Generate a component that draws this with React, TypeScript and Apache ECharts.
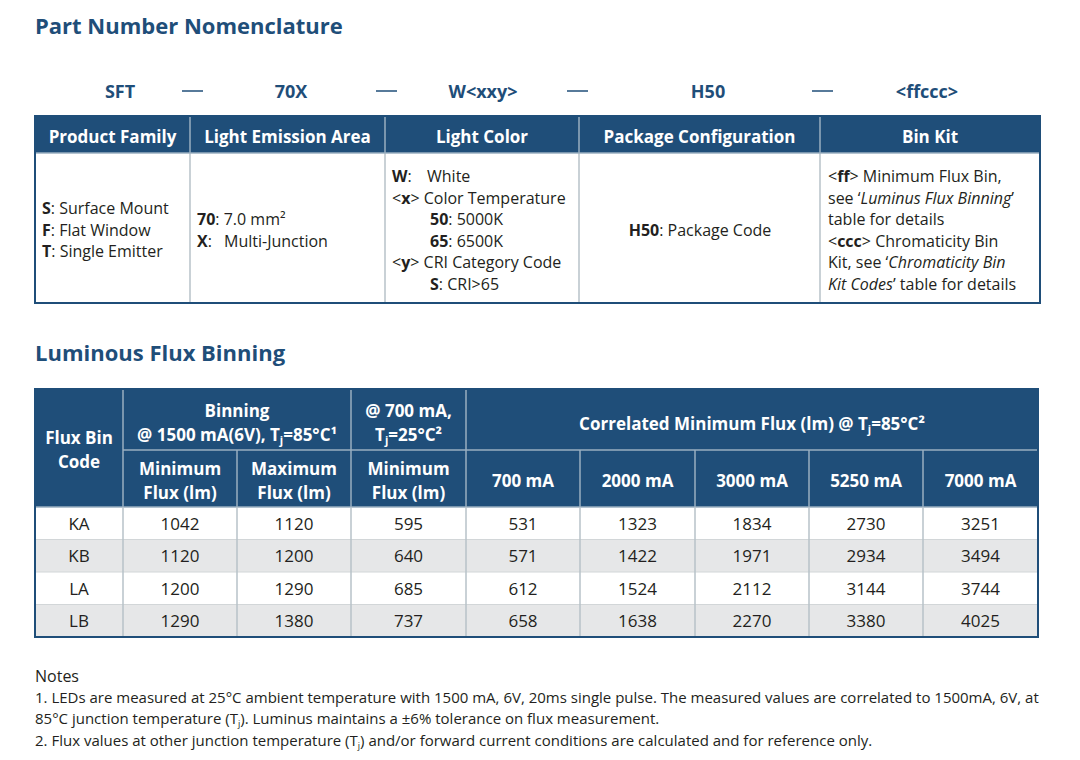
import React, { useEffect, useRef } from 'react';
import * as echarts from 'echarts';

const FONT = '"Open Sans", "Noto Sans", sans-serif';
const BLUE = '#1f4e79';
const INK = '#231f20';
const HEAD_LINE = '#9aafc0';
const GRID = '#b7c2c8';
const STRIPE = '#e6e7e8';

// ---- Data ----
const partCodes = ['SFT', '70X', 'W<xxy>', 'H50', '<ffccc>'];
const nomenHeaders = ['Product Family', 'Light Emission Area', 'Light Color', 'Package Configuration', 'Bin Kit'];
const fluxBinCodes = ['KA', 'KB', 'LA', 'LB'];
const minFlux1500 = [1042, 1120, 1200, 1290];
const maxFlux1500 = [1120, 1200, 1290, 1380];
const minFlux700at25 = [595, 640, 685, 737];
const flux700 = [531, 571, 612, 658];
const flux2000 = [1323, 1422, 1524, 1638];
const flux3000 = [1834, 1971, 2112, 2270];
const flux5250 = [2730, 2934, 3144, 3380];
const flux7000 = [3251, 3494, 3744, 4025];
const currentLabels = ['700 mA', '2000 mA', '3000 mA', '5250 mA', '7000 mA'];

type Seg = [string, string] | string;

function txt(x: number, y: number, segs: Seg[], o: { size?: number; color?: string; align?: string; weight?: string } = {}) {
  const size = o.size ?? 16;
  const color = o.color ?? INK;
  const w = o.weight ?? 'normal';
  const mk = (extra: any) => ({ fontFamily: FONT, fontSize: size, fill: color, color, lineHeight: Math.round(size * 1.25), ...extra });
  const rich: any = {
    n: mk({ fontWeight: w }),
    b: mk({ fontWeight: 'bold' }),
    i: mk({ fontWeight: w, fontStyle: 'italic' }),
    s: mk({ fontWeight: w, fontSize: Math.round(size * 0.62), verticalAlign: 'bottom' }),
  };
  const text = segs
    .map((s) => (typeof s === 'string' ? `{n|${s}}` : `{${s[0]}|${s[1]}}`))
    .join('');
  const align = o.align ?? 'left';
  return {
    type: 'text',
    x,
    y,
    silent: true,
    style: {
      text,
      rich,
      fontFamily: FONT,
      fontSize: size,
      fontWeight: w,
      fill: color,
      align,
      textAlign: align,
      verticalAlign: 'middle',
      textVerticalAlign: 'middle',
    },
  };
}

function ln(x1: number, y1: number, x2: number, y2: number, stroke: string, lineWidth = 1) {
  return { type: 'line', silent: true, shape: { x1, y1, x2, y2 }, style: { stroke, lineWidth } };
}

function rect(x: number, y: number, width: number, height: number, style: any) {
  return { type: 'rect', silent: true, shape: { x, y, width, height }, style };
}

function buildElements() {
  const els: any[] = [];

  // ---- Part Number Nomenclature ----
  els.push(txt(35, 25, [['b', 'Part Number Nomenclature']], { size: 22, color: BLUE }));
  const codeX = [120, 291, 483, 708, 927];
  partCodes.forEach((c, i) => els.push(txt(codeX[i], 91, [['b', c]], { size: 18, color: BLUE, align: 'center' })));
  const dashX = [182, 376, 567, 812];
  dashX.forEach((x) => els.push(ln(x, 91, x + 21, 91, BLUE, 1.5)));

  const t1L = 35, t1R = 1040, t1Top = 116, t1HB = 153, t1Bot = 303;
  const t1Cols = [35, 190, 385, 579, 820, 1040];
  els.push(rect(t1L, t1Top, t1R - t1L, t1HB - t1Top, { fill: BLUE }));
  for (let i = 1; i < t1Cols.length - 1; i++) {
    els.push(ln(t1Cols[i], t1Top, t1Cols[i], t1HB, HEAD_LINE, 1.5));
    els.push(ln(t1Cols[i], t1HB, t1Cols[i], t1Bot, GRID, 1.5));
  }
  els.push(ln(t1L, t1HB, t1R, t1HB, HEAD_LINE, 1.5));
  els.push(rect(t1L, t1Top, t1R - t1L, t1Bot - t1Top, { fill: 'none', stroke: BLUE, lineWidth: 2 }));
  nomenHeaders.forEach((h, i) => {
    const cx = (t1Cols[i] + t1Cols[i + 1]) / 2;
    els.push(txt(cx, 136, [['b', h]], { size: 17, color: '#ffffff', align: 'center' }));
  });

  // column 1
  const lh = 21.6;
  els.push(txt(42, 208, [['b', 'S'], ': Surface Mount']));
  els.push(txt(42, 208 + lh, [['b', 'F'], ': Flat Window']));
  els.push(txt(42, 208 + 2 * lh, [['b', 'T'], ': Single Emitter']));
  // column 2
  els.push(txt(197, 219, [['b', '70'], ': 7.0 mm²']));
  els.push(txt(197, 241, [['b', 'X'], ':']));
  els.push(txt(224, 241, ['Multi-Junction']));
  // column 3
  const c3 = 392, c3i = 430, y3 = 176;
  els.push(txt(c3, y3, [['b', 'W'], ':']));
  els.push(txt(427, y3, ['White']));
  els.push(txt(c3, y3 + lh, ['<', ['b', 'x'], '> Color Temperature']));
  els.push(txt(c3i, y3 + 2 * lh, [['b', '50'], ': 5000K']));
  els.push(txt(c3i, y3 + 3 * lh, [['b', '65'], ': 6500K']));
  els.push(txt(c3, y3 + 4 * lh, ['<', ['b', 'y'], '> CRI Category Code']));
  els.push(txt(c3i, y3 + 5 * lh, [['b', 'S'], ': CRI>65']));
  // column 4
  els.push(txt(700, 230, [['b', 'H50'], ': Package Code'], { align: 'center' }));
  // column 5
  const c5 = 828;
  els.push(txt(c5, y3, ['<', ['b', 'ff'], '> Minimum Flux Bin,']));
  els.push(txt(c5, y3 + lh, ['see ‘', ['i', 'Luminus Flux Binning'], '’']));
  els.push(txt(c5, y3 + 2 * lh, ['table for details']));
  els.push(txt(c5, y3 + 3 * lh, ['<', ['b', 'ccc'], '> Chromaticity Bin']));
  els.push(txt(c5, y3 + 4 * lh, ['Kit, see ‘', ['i', 'Chromaticity Bin']]));
  els.push(txt(c5, y3 + 5 * lh, [['i', 'Kit Codes'], '’ table for details']));

  // ---- Luminous Flux Binning ----
  els.push(txt(35, 352, [['b', 'Luminous Flux Binning']], { size: 22, color: BLUE }));
  const cols = [35, 123, 237, 351, 466, 580, 695, 809, 923, 1038];
  const top = 389, hMid = 450, hBot = 507;
  const rowH = 32.5;
  const bot = hBot + rowH * fluxBinCodes.length;
  els.push(rect(cols[0], top, cols[9] - cols[0], hBot - top, { fill: BLUE }));
  fluxBinCodes.forEach((_, r) => {
    els.push(rect(cols[0], hBot + r * rowH, cols[9] - cols[0], rowH, { fill: r % 2 === 0 ? '#ffffff' : STRIPE }));
    if (r > 0) els.push(ln(cols[0], hBot + r * rowH, cols[9], hBot + r * rowH, '#d2d6d8', 1));
  });
  // header lines
  [1, 3, 4].forEach((i) => els.push(ln(cols[i], top, cols[i], hBot, HEAD_LINE, 1.5)));
  [2, 5, 6, 7, 8].forEach((i) => els.push(ln(cols[i], hMid, cols[i], hBot, HEAD_LINE, 1.5)));
  els.push(ln(cols[1], hMid, cols[9], hMid, HEAD_LINE, 1.5));
  els.push(ln(cols[0], hBot, cols[9], hBot, HEAD_LINE, 1.5));
  for (let i = 1; i < 9; i++) els.push(ln(cols[i], hBot, cols[i], bot, GRID, 1.5));
  els.push(rect(cols[0], top, cols[9] - cols[0], bot - top, { fill: 'none', stroke: BLUE, lineWidth: 2 }));

  const W = '#ffffff';
  const hs = 17;
  const cx = (i: number) => (cols[i] + cols[i + 1]) / 2;
  els.push(txt(cx(0), 437, [['b', 'Flux Bin']], { size: hs, color: W, align: 'center' }));
  els.push(txt(cx(0), 461, [['b', 'Code']], { size: hs, color: W, align: 'center' }));
  els.push(txt(cols[2], 410, [['b', 'Binning']], { size: hs, color: W, align: 'center' }));
  els.push(txt(cols[2], 434, [['b', '@ 1500 mA(6V), T'], ['s', 'j'], ['b', '=85°C¹']], { size: hs, color: W, align: 'center', weight: 'bold' }));
  els.push(txt(cx(3), 410, [['b', '@ 700 mA,']], { size: hs, color: W, align: 'center' }));
  els.push(txt(cx(3), 434, [['b', 'T'], ['s', 'j'], ['b', '=25°C²']], { size: hs, color: W, align: 'center', weight: 'bold' }));
  els.push(txt((cols[4] + cols[9]) / 2, 423, [['b', 'Correlated Minimum Flux (lm) @ T'], ['s', 'j'], ['b', '=85°C²']], { size: hs, color: W, align: 'center', weight: 'bold' }));
  const sub2 = [['Minimum', 1], ['Maximum', 2], ['Minimum', 3]] as [string, number][];
  sub2.forEach(([label, i]) => {
    els.push(txt(cx(i), 468, [['b', label]], { size: hs, color: W, align: 'center' }));
    els.push(txt(cx(i), 492, [['b', 'Flux (lm)']], { size: hs, color: W, align: 'center' }));
  });
  currentLabels.forEach((c, k) => els.push(txt(cx(4 + k), 480, [['b', c]], { size: hs, color: W, align: 'center' })));

  const columns: (string | number)[][] = [fluxBinCodes, minFlux1500, maxFlux1500, minFlux700at25, flux700, flux2000, flux3000, flux5250, flux7000];
  columns.forEach((colVals, i) => {
    colVals.forEach((v, r) => {
      els.push(txt(cx(i), hBot + r * rowH + rowH / 2, [String(v)], { size: 17, align: 'center' }));
    });
  });

  // ---- Notes ----
  els.push(txt(35, 676, ['Notes'], { size: 16 }));
  const ns = 15;
  els.push(txt(35, 697, ['1. LEDs are measured at 25°C ambient temperature with 1500 mA, 6V, 20ms single pulse. The measured values are correlated to 1500mA, 6V, at'], { size: ns }));
  els.push(txt(35, 718, ['85°C junction temperature (T', ['s', 'j'], '). Luminus maintains a ±6% tolerance on flux measurement.'], { size: ns }));
  els.push(txt(35, 740, ['2. Flux values at other junction temperature (T', ['s', 'j'], ') and/or forward current conditions are calculated and for reference only.'], { size: ns }));

  return els;
}

export default function App() {
  const ref = useRef<HTMLDivElement>(null);
  useEffect(() => {
    if (!ref.current) return;
    const chart = echarts.init(ref.current, undefined, { renderer: 'svg' });
    chart.setOption({
      animation: false,
      backgroundColor: '#ffffff',
      graphic: { elements: buildElements() },
    });
    return () => chart.dispose();
  }, []);
  return <div ref={ref} style={{ position: 'fixed', left: 0, top: 0, width: 1080, height: 760, background: '#fff' }} />;
}
